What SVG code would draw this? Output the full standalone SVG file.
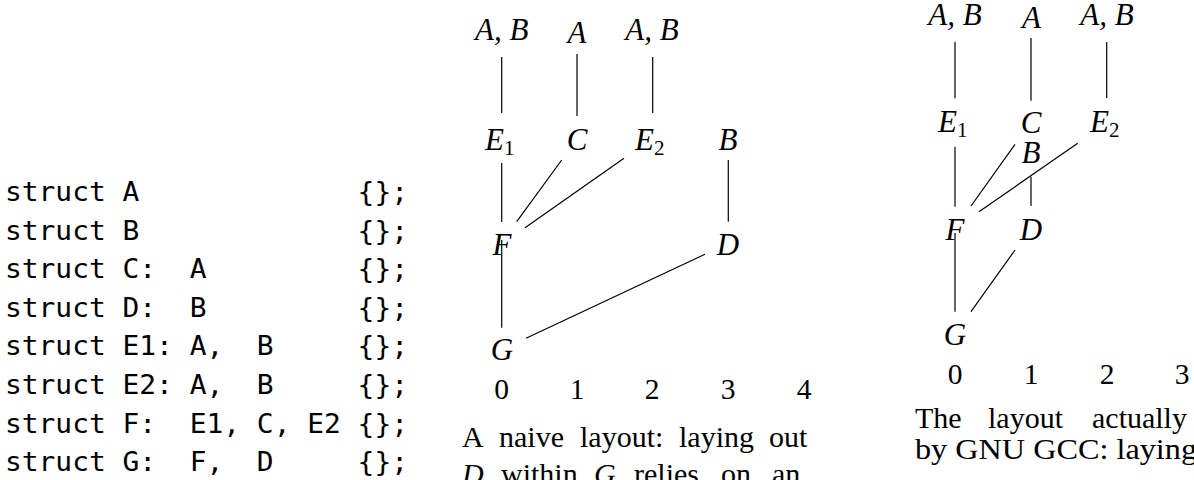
<svg xmlns="http://www.w3.org/2000/svg" width="1194" height="480" viewBox="0 0 1194 480">
<style>
.code{font-family:"DejaVu Sans Mono","Liberation Mono",monospace;font-size:26.5px;fill:#000}
.m{font-family:"Liberation Serif","Times New Roman",serif;font-style:italic;font-size:31px;fill:#000}
.n{font-family:"Liberation Serif","Times New Roman",serif;font-size:29.5px;fill:#000}
.sub{font-style:normal;font-size:21px}
.cap{font-family:"Liberation Serif","Times New Roman",serif;font-size:30px;fill:#000}
.ci{font-style:italic}
.e line{stroke:#000;stroke-width:1.2;fill:none}
</style>
<rect width="1194" height="480" fill="#fff"/>
<g id="code">
<text class="code" x="5" y="201" xml:space="preserve" textLength="403" lengthAdjust="spacingAndGlyphs">struct A             {};</text>
<text class="code" x="5" y="239.6" xml:space="preserve" textLength="403" lengthAdjust="spacingAndGlyphs">struct B             {};</text>
<text class="code" x="5" y="278.2" xml:space="preserve" textLength="403" lengthAdjust="spacingAndGlyphs">struct C:  A         {};</text>
<text class="code" x="5" y="316.8" xml:space="preserve" textLength="403" lengthAdjust="spacingAndGlyphs">struct D:  B         {};</text>
<text class="code" x="5" y="355.4" xml:space="preserve" textLength="403" lengthAdjust="spacingAndGlyphs">struct E1: A,  B     {};</text>
<text class="code" x="5" y="394" xml:space="preserve" textLength="403" lengthAdjust="spacingAndGlyphs">struct E2: A,  B     {};</text>
<text class="code" x="5" y="432.6" xml:space="preserve" textLength="403" lengthAdjust="spacingAndGlyphs">struct F:  E1, C, E2 {};</text>
<text class="code" x="5" y="471.2" xml:space="preserve" textLength="403" lengthAdjust="spacingAndGlyphs">struct G:  F,  D     {};</text>
</g>

<!-- naive layout -->
<g class="e" id="edges-naive">
<line x1="501.7" y1="57" x2="501.7" y2="113"/>
<line x1="577" y1="54" x2="577" y2="116"/>
<line x1="652.7" y1="57" x2="652.7" y2="113"/>
<line x1="501.7" y1="163" x2="501.7" y2="222"/>
<line x1="561.7" y1="160" x2="516.7" y2="221.7"/>
<line x1="624" y1="158.3" x2="525" y2="227.7"/>
<line x1="728.3" y1="160" x2="728.3" y2="221.7"/>
<line x1="501.7" y1="240" x2="501.7" y2="327.7"/>
<line x1="705" y1="254.3" x2="526" y2="338.3"/>
</g>
<g id="n-AB1"><text class="m" x="501.7" y="40" text-anchor="middle">A, B</text></g>
<g id="n-A1"><text class="m" x="577" y="43" text-anchor="middle">A</text></g>
<g id="n-AB2"><text class="m" x="652" y="40" text-anchor="middle">A, B</text></g>
<g id="n-E1"><text class="m" x="485" y="150">E<tspan class="sub" dy="5">1</tspan></text></g>
<g id="n-C"><text class="m" x="577" y="150" text-anchor="middle">C</text></g>
<g id="n-E2"><text class="m" x="635" y="150">E<tspan class="sub" dy="5">2</tspan></text></g>
<g id="n-B"><text class="m" x="728" y="150" text-anchor="middle">B</text></g>
<g id="n-F"><text class="m" x="502" y="255" text-anchor="middle">F</text></g>
<g id="n-D"><text class="m" x="728" y="255" text-anchor="middle">D</text></g>
<g id="n-G"><text class="m" x="502" y="360" text-anchor="middle">G</text></g>
<g id="axis-naive">
<text class="n" x="501.7" y="399" text-anchor="middle">0</text>
<text class="n" x="577" y="399" text-anchor="middle">1</text>
<text class="n" x="652" y="399" text-anchor="middle">2</text>
<text class="n" x="728" y="399" text-anchor="middle">3</text>
<text class="n" x="804" y="399" text-anchor="middle">4</text>
</g>
<g id="caption-naive">
<text class="cap" y="446.7"><tspan x="462">A</tspan><tspan x="499">naive</tspan><tspan x="580">layout:</tspan><tspan x="679">laying</tspan><tspan x="769">out</tspan></text>
<text class="cap" y="483.5"><tspan x="462" class="ci">D</tspan><tspan x="501">within</tspan><tspan x="594" class="ci">G</tspan><tspan x="634">relies</tspan><tspan x="721">on</tspan><tspan x="772">an</tspan></text>
</g>

<!-- GCC layout -->
<g class="e" id="edges-gcc">
<line x1="955" y1="41.7" x2="955" y2="98.3"/>
<line x1="1031" y1="38" x2="1031" y2="100.7"/>
<line x1="1106.7" y1="42" x2="1106.7" y2="98"/>
<line x1="955" y1="146.7" x2="955" y2="206.7"/>
<line x1="1015" y1="144.3" x2="971" y2="206"/>
<line x1="1077.7" y1="143.3" x2="979" y2="211.7"/>
<line x1="1031" y1="176.7" x2="1031" y2="206"/>
<line x1="955" y1="233" x2="955" y2="311.7"/>
<line x1="1015" y1="250" x2="971" y2="311.7"/>
</g>
<g id="g-AB1"><text class="m" x="955" y="25" text-anchor="middle">A, B</text></g>
<g id="g-A1"><text class="m" x="1031.5" y="28" text-anchor="middle">A</text></g>
<g id="g-AB2"><text class="m" x="1107" y="25" text-anchor="middle">A, B</text></g>
<g id="g-E1"><text class="m" x="938" y="132">E<tspan class="sub" dy="5">1</tspan></text></g>
<g id="g-C"><text class="m" x="1031" y="133" text-anchor="middle">C</text></g>
<g id="g-E2"><text class="m" x="1090" y="132">E<tspan class="sub" dy="5">2</tspan></text></g>
<g id="g-B"><text class="m" x="1031" y="163" text-anchor="middle">B</text></g>
<g id="g-F"><text class="m" x="955" y="240" text-anchor="middle">F</text></g>
<g id="g-D"><text class="m" x="1031" y="240" text-anchor="middle">D</text></g>
<g id="g-G"><text class="m" x="955" y="345" text-anchor="middle">G</text></g>
<g id="axis-gcc">
<text class="n" x="955" y="384" text-anchor="middle">0</text>
<text class="n" x="1031" y="384" text-anchor="middle">1</text>
<text class="n" x="1107" y="384" text-anchor="middle">2</text>
<text class="n" x="1182" y="384" text-anchor="middle">3</text>
</g>
<g id="caption-gcc">
<text class="cap" y="428"><tspan x="915">The</tspan><tspan x="988">layout</tspan><tspan x="1092">actually</tspan></text>
<text class="cap" x="915" y="459" textLength="282" lengthAdjust="spacingAndGlyphs">by GNU GCC: laying</text>
</g>
</svg>
